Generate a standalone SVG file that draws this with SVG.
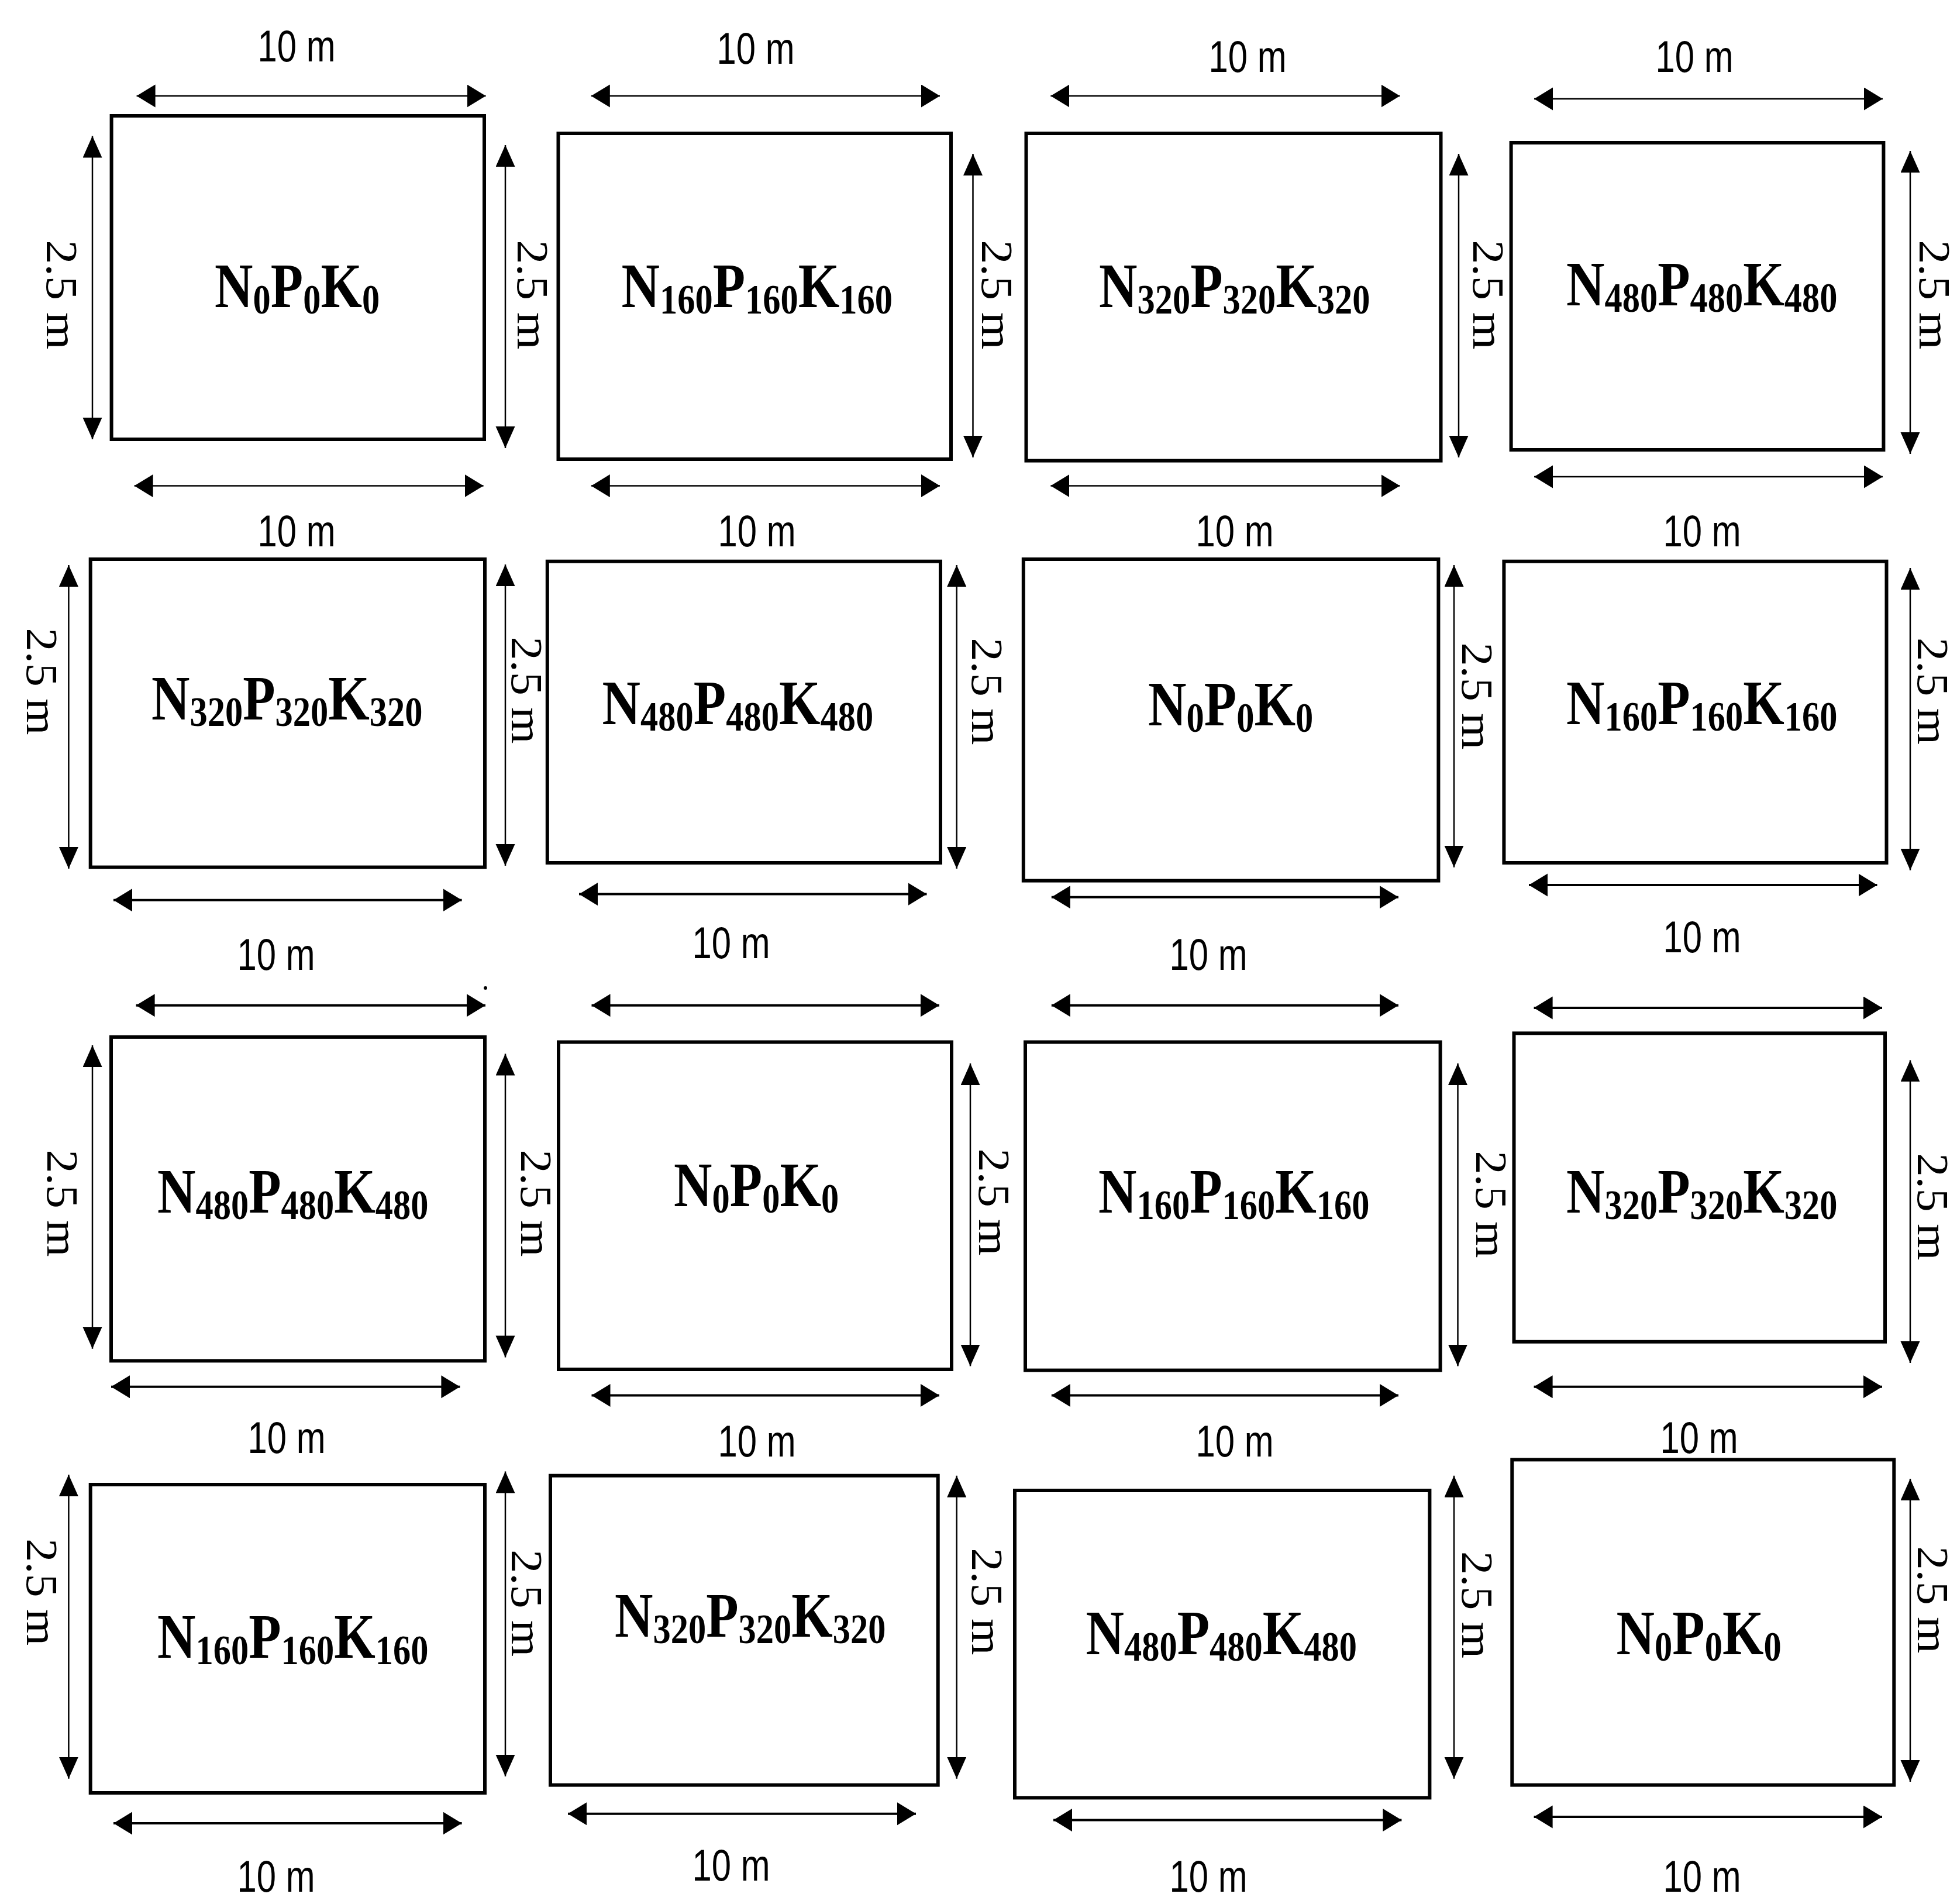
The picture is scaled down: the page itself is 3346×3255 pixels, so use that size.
<svg xmlns="http://www.w3.org/2000/svg" width="3346" height="3255" viewBox="0 0 3346 3255">
<style>
.box{fill:#fff;stroke:#000;stroke-width:6}
.npk{font-family:"Liberation Serif","Times New Roman",serif;font-weight:bold;font-size:108px;fill:#000}
.sub{font-size:72px}
.ar{stroke:#000;fill:none}
.h1{stroke-width:2.5;marker-start:url(#mh);marker-end:url(#mh)}
.h2{stroke-width:4;marker-start:url(#mh);marker-end:url(#mh)}
.v{stroke-width:2.5;marker-start:url(#mv);marker-end:url(#mv)}
.tl{font-family:"Liberation Sans",Arial,sans-serif;font-size:76px;text-anchor:middle;fill:#000}
.vl{font-family:"Liberation Serif","Times New Roman",serif;font-size:77px;text-anchor:middle;fill:#000}
</style>
<defs>
<marker id="mh" markerUnits="userSpaceOnUse" markerWidth="34" markerHeight="40" refX="32" refY="19.5" orient="auto-start-reverse"><path d="M0,0 L32,19.5 L0,39 Z" fill="#000"/></marker>
<marker id="mv" markerUnits="userSpaceOnUse" markerWidth="38" markerHeight="34" refX="37" refY="16.5" orient="auto-start-reverse"><path d="M0,0 L37,16.5 L0,33 Z" fill="#000"/></marker>
</defs>
<rect width="3346" height="3255" fill="#fff"/>

<g id="plots">
<g id="plot-r1c1"><rect class="box" x="190.6" y="198" width="637.4" height="553"/><text class="npk" transform="translate(367,525) scale(0.84,1)">N<tspan class="sub" dy="11">0</tspan><tspan dy="-11">P</tspan><tspan class="sub" dy="11">0</tspan><tspan dy="-11">K</tspan><tspan class="sub" dy="11">0</tspan></text></g>
<g id="plot-r1c2"><rect class="box" x="954.5" y="228" width="671.5" height="557"/><text class="npk" transform="translate(1062.5,525) scale(0.84,1)">N<tspan class="sub" dy="11">160</tspan><tspan dy="-11">P</tspan><tspan class="sub" dy="11">160</tspan><tspan dy="-11">K</tspan><tspan class="sub" dy="11">160</tspan></text></g>
<g id="plot-r1c3"><rect class="box" x="1754.5" y="228" width="709" height="559.6"/><text class="npk" transform="translate(1879,525) scale(0.84,1)">N<tspan class="sub" dy="11">320</tspan><tspan dy="-11">P</tspan><tspan class="sub" dy="11">320</tspan><tspan dy="-11">K</tspan><tspan class="sub" dy="11">320</tspan></text></g>
<g id="plot-r1c4"><rect class="box" x="2583.6" y="244" width="636.8" height="525"/><text class="npk" transform="translate(2678,522) scale(0.84,1)">N<tspan class="sub" dy="11">480</tspan><tspan dy="-11">P</tspan><tspan class="sub" dy="11">480</tspan><tspan dy="-11">K</tspan><tspan class="sub" dy="11">480</tspan></text></g>

<g id="plot-r2c1"><rect class="box" x="154.7" y="956" width="674.3" height="526.6"/><text class="npk" transform="translate(259,1230) scale(0.84,1)">N<tspan class="sub" dy="11">320</tspan><tspan dy="-11">P</tspan><tspan class="sub" dy="11">320</tspan><tspan dy="-11">K</tspan><tspan class="sub" dy="11">320</tspan></text></g>
<g id="plot-r2c2"><rect class="box" x="935.8" y="959.7" width="672.2" height="515.3"/><text class="npk" transform="translate(1029.6,1238) scale(0.84,1)">N<tspan class="sub" dy="11">480</tspan><tspan dy="-11">P</tspan><tspan class="sub" dy="11">480</tspan><tspan dy="-11">K</tspan><tspan class="sub" dy="11">480</tspan></text></g>
<g id="plot-r2c3"><rect class="box" x="1749.8" y="956" width="709.6" height="549.6"/><text class="npk" transform="translate(1963,1240) scale(0.84,1)">N<tspan class="sub" dy="11">0</tspan><tspan dy="-11">P</tspan><tspan class="sub" dy="11">0</tspan><tspan dy="-11">K</tspan><tspan class="sub" dy="11">0</tspan></text></g>
<g id="plot-r2c4"><rect class="box" x="2571.4" y="959.7" width="654.1" height="515.3"/><text class="npk" transform="translate(2678,1238) scale(0.84,1)">N<tspan class="sub" dy="11">160</tspan><tspan dy="-11">P</tspan><tspan class="sub" dy="11">160</tspan><tspan dy="-11">K</tspan><tspan class="sub" dy="11">160</tspan></text></g>

<g id="plot-r3c1"><rect class="box" x="190" y="1772.9" width="639" height="553.5"/><text class="npk" transform="translate(269,2072.6) scale(0.84,1)">N<tspan class="sub" dy="11">480</tspan><tspan dy="-11">P</tspan><tspan class="sub" dy="11">480</tspan><tspan dy="-11">K</tspan><tspan class="sub" dy="11">480</tspan></text></g>
<g id="plot-r3c2"><rect class="box" x="955" y="1781.5" width="672" height="559.5"/><text class="npk" transform="translate(1152,2062) scale(0.84,1)">N<tspan class="sub" dy="11">0</tspan><tspan dy="-11">P</tspan><tspan class="sub" dy="11">0</tspan><tspan dy="-11">K</tspan><tspan class="sub" dy="11">0</tspan></text></g>
<g id="plot-r3c3"><rect class="box" x="1753" y="1781.5" width="709.6" height="561.1"/><text class="npk" transform="translate(1878,2072.6) scale(0.84,1)">N<tspan class="sub" dy="11">160</tspan><tspan dy="-11">P</tspan><tspan class="sub" dy="11">160</tspan><tspan dy="-11">K</tspan><tspan class="sub" dy="11">160</tspan></text></g>
<g id="plot-r3c4"><rect class="box" x="2588.5" y="1766.4" width="634.5" height="527.4"/><text class="npk" transform="translate(2678,2072.6) scale(0.84,1)">N<tspan class="sub" dy="11">320</tspan><tspan dy="-11">P</tspan><tspan class="sub" dy="11">320</tspan><tspan dy="-11">K</tspan><tspan class="sub" dy="11">320</tspan></text></g>

<g id="plot-r4c1"><rect class="box" x="154.7" y="2538" width="674.3" height="527"/><text class="npk" transform="translate(269,2833.5) scale(0.84,1)">N<tspan class="sub" dy="11">160</tspan><tspan dy="-11">P</tspan><tspan class="sub" dy="11">160</tspan><tspan dy="-11">K</tspan><tspan class="sub" dy="11">160</tspan></text></g>
<g id="plot-r4c2"><rect class="box" x="941" y="2522.7" width="662.7" height="528.9"/><text class="npk" transform="translate(1051,2798) scale(0.84,1)">N<tspan class="sub" dy="11">320</tspan><tspan dy="-11">P</tspan><tspan class="sub" dy="11">320</tspan><tspan dy="-11">K</tspan><tspan class="sub" dy="11">320</tspan></text></g>
<g id="plot-r4c3"><rect class="box" x="1735" y="2548" width="709.4" height="525.4"/><text class="npk" transform="translate(1856.5,2828) scale(0.84,1)">N<tspan class="sub" dy="11">480</tspan><tspan dy="-11">P</tspan><tspan class="sub" dy="11">480</tspan><tspan dy="-11">K</tspan><tspan class="sub" dy="11">480</tspan></text></g>
<g id="plot-r4c4"><rect class="box" x="2585.3" y="2495.4" width="653" height="556.2"/><text class="npk" transform="translate(2763.5,2828) scale(0.84,1)">N<tspan class="sub" dy="11">0</tspan><tspan dy="-11">P</tspan><tspan class="sub" dy="11">0</tspan><tspan dy="-11">K</tspan><tspan class="sub" dy="11">0</tspan></text></g>
</g>

<g id="connectors">
<line class="ar h1" x1="233.6" y1="164" x2="830.6" y2="164"/>
<line class="ar h1" x1="1010.8" y1="164" x2="1607" y2="164"/>
<line class="ar h1" x1="1796.4" y1="164" x2="2393.5" y2="164"/>
<line class="ar h1" x1="2623" y1="169" x2="3219" y2="169"/>
<line class="ar h1" x1="229.6" y1="830.6" x2="826.6" y2="830.6"/>
<line class="ar h1" x1="1010.8" y1="830.6" x2="1607" y2="830.6"/>
<line class="ar h1" x1="1796.4" y1="830.6" x2="2393.5" y2="830.6"/>
<line class="ar h1" x1="2623" y1="815" x2="3219" y2="815"/>
<line class="ar v" x1="158" y1="232.5" x2="158" y2="751"/>
<line class="ar v" x1="864" y1="248" x2="864" y2="766"/>
<line class="ar v" x1="1663.5" y1="263" x2="1663.5" y2="782"/>
<line class="ar v" x1="2494" y1="263" x2="2494" y2="782"/>
<line class="ar v" x1="3266" y1="258" x2="3266" y2="776"/>
<line class="ar v" x1="117.4" y1="966" x2="117.4" y2="1485"/>
<line class="ar v" x1="864" y1="965" x2="864" y2="1480"/>
<line class="ar v" x1="1635.7" y1="966" x2="1635.7" y2="1485"/>
<line class="ar v" x1="2486" y1="966" x2="2486" y2="1482.7"/>
<line class="ar v" x1="3266" y1="971" x2="3266" y2="1487.8"/>
<line class="ar h2" x1="194" y1="1538.8" x2="789.6" y2="1538.8"/>
<line class="ar h2" x1="990" y1="1528.6" x2="1584.5" y2="1528.6"/>
<line class="ar h2" x1="1797.8" y1="1533.7" x2="2391" y2="1533.7"/>
<line class="ar h2" x1="2614" y1="1513" x2="3209.5" y2="1513"/>
<line class="ar h2" x1="232.6" y1="1718.7" x2="830" y2="1718.7"/>
<line class="ar h2" x1="1011.5" y1="1718.7" x2="1606" y2="1718.7"/>
<line class="ar h2" x1="1797.8" y1="1718.7" x2="2391" y2="1718.7"/>
<line class="ar h2" x1="2622.6" y1="1723" x2="3218" y2="1723"/>
<circle cx="830" cy="1689" r="3" fill="#000"/>
<line class="ar v" x1="158" y1="1787" x2="158" y2="2305.7"/>
<line class="ar v" x1="864" y1="1801.6" x2="864" y2="2320.4"/>
<line class="ar v" x1="1659" y1="1818" x2="1659" y2="2335.6"/>
<line class="ar v" x1="2492.5" y1="1818" x2="2492.5" y2="2335.6"/>
<line class="ar v" x1="3266" y1="1812.4" x2="3266" y2="2330"/>
<line class="ar h2" x1="190" y1="2370.8" x2="786.4" y2="2370.8"/>
<line class="ar h2" x1="1011.5" y1="2385.4" x2="1606" y2="2385.4"/>
<line class="ar h2" x1="1797.8" y1="2385.4" x2="2391" y2="2385.4"/>
<line class="ar h2" x1="2622.6" y1="2370.8" x2="3218" y2="2370.8"/>
<line class="ar v" x1="117.4" y1="2521" x2="117.4" y2="3040.7"/>
<line class="ar v" x1="864" y1="2515.6" x2="864" y2="3036.8"/>
<line class="ar v" x1="1635.7" y1="2522.7" x2="1635.7" y2="3040.7"/>
<line class="ar v" x1="2486" y1="2522.7" x2="2486" y2="3040.7"/>
<line class="ar v" x1="3266" y1="2528" x2="3266" y2="3046"/>
<line class="ar h2" x1="194" y1="3117" x2="789.6" y2="3117"/>
<line class="ar h2" x1="971" y1="3100.7" x2="1566" y2="3100.7"/>
<line class="ar h2" x1="1801" y1="3111.6" x2="2396.4" y2="3111.6"/>
<line class="ar h2" x1="2622.6" y1="3106" x2="3218" y2="3106"/>
</g>

<g id="dimension-labels">
<text class="tl" x="507" y="105" textLength="133" lengthAdjust="spacingAndGlyphs">10 m</text>
<text class="tl" x="1292" y="109" textLength="133" lengthAdjust="spacingAndGlyphs">10 m</text>
<text class="tl" x="2133" y="123" textLength="133" lengthAdjust="spacingAndGlyphs">10 m</text>
<text class="tl" x="2897" y="123" textLength="133" lengthAdjust="spacingAndGlyphs">10 m</text>
<text class="tl" x="507" y="934" textLength="133" lengthAdjust="spacingAndGlyphs">10 m</text>
<text class="tl" x="1294" y="934" textLength="133" lengthAdjust="spacingAndGlyphs">10 m</text>
<text class="tl" x="2111" y="934" textLength="133" lengthAdjust="spacingAndGlyphs">10 m</text>
<text class="tl" x="2910" y="934" textLength="133" lengthAdjust="spacingAndGlyphs">10 m</text>
<text class="tl" x="472" y="1658" textLength="133" lengthAdjust="spacingAndGlyphs">10 m</text>
<text class="tl" x="1250" y="1638" textLength="133" lengthAdjust="spacingAndGlyphs">10 m</text>
<text class="tl" x="2066" y="1658" textLength="133" lengthAdjust="spacingAndGlyphs">10 m</text>
<text class="tl" x="2910" y="1628" textLength="133" lengthAdjust="spacingAndGlyphs">10 m</text>
<text class="tl" x="490" y="2484" textLength="133" lengthAdjust="spacingAndGlyphs">10 m</text>
<text class="tl" x="1294" y="2490" textLength="133" lengthAdjust="spacingAndGlyphs">10 m</text>
<text class="tl" x="2111" y="2490" textLength="133" lengthAdjust="spacingAndGlyphs">10 m</text>
<text class="tl" x="2905" y="2484" textLength="133" lengthAdjust="spacingAndGlyphs">10 m</text>
<text class="tl" x="472" y="3234" textLength="133" lengthAdjust="spacingAndGlyphs">10 m</text>
<text class="tl" x="1250" y="3215" textLength="133" lengthAdjust="spacingAndGlyphs">10 m</text>
<text class="tl" x="2066" y="3234" textLength="133" lengthAdjust="spacingAndGlyphs">10 m</text>
<text class="tl" x="2910" y="3234" textLength="133" lengthAdjust="spacingAndGlyphs">10 m</text>

<text class="vl" transform="translate(106,504) rotate(90)" dy="0.34em" textLength="187" lengthAdjust="spacingAndGlyphs">2.5 m</text>
<text class="vl" transform="translate(911,504) rotate(90)" dy="0.34em" textLength="187" lengthAdjust="spacingAndGlyphs">2.5 m</text>
<text class="vl" transform="translate(1705,504) rotate(90)" dy="0.34em" textLength="187" lengthAdjust="spacingAndGlyphs">2.5 m</text>
<text class="vl" transform="translate(2545,504) rotate(90)" dy="0.34em" textLength="187" lengthAdjust="spacingAndGlyphs">2.5 m</text>
<text class="vl" transform="translate(3308,504) rotate(90)" dy="0.34em" textLength="187" lengthAdjust="spacingAndGlyphs">2.5 m</text>
<text class="vl" transform="translate(72,1165) rotate(90)" dy="0.34em" textLength="183" lengthAdjust="spacingAndGlyphs">2.5 m</text>
<text class="vl" transform="translate(901.6,1180) rotate(90)" dy="0.34em" textLength="183" lengthAdjust="spacingAndGlyphs">2.5 m</text>
<text class="vl" transform="translate(1688,1182) rotate(90)" dy="0.34em" textLength="183" lengthAdjust="spacingAndGlyphs">2.5 m</text>
<text class="vl" transform="translate(2526.6,1190) rotate(90)" dy="0.34em" textLength="183" lengthAdjust="spacingAndGlyphs">2.5 m</text>
<text class="vl" transform="translate(3305.5,1181.6) rotate(90)" dy="0.34em" textLength="183" lengthAdjust="spacingAndGlyphs">2.5 m</text>
<text class="vl" transform="translate(106.7,2057) rotate(90)" dy="0.34em" textLength="183" lengthAdjust="spacingAndGlyphs">2.5 m</text>
<text class="vl" transform="translate(917.6,2057) rotate(90)" dy="0.34em" textLength="183" lengthAdjust="spacingAndGlyphs">2.5 m</text>
<text class="vl" transform="translate(1700,2055) rotate(90)" dy="0.34em" textLength="183" lengthAdjust="spacingAndGlyphs">2.5 m</text>
<text class="vl" transform="translate(2550.6,2059) rotate(90)" dy="0.34em" textLength="183" lengthAdjust="spacingAndGlyphs">2.5 m</text>
<text class="vl" transform="translate(3305.5,2063) rotate(90)" dy="0.34em" textLength="183" lengthAdjust="spacingAndGlyphs">2.5 m</text>
<text class="vl" transform="translate(72,2721.7) rotate(90)" dy="0.34em" textLength="183" lengthAdjust="spacingAndGlyphs">2.5 m</text>
<text class="vl" transform="translate(901.6,2740.8) rotate(90)" dy="0.34em" textLength="183" lengthAdjust="spacingAndGlyphs">2.5 m</text>
<text class="vl" transform="translate(1688,2738) rotate(90)" dy="0.34em" textLength="183" lengthAdjust="spacingAndGlyphs">2.5 m</text>
<text class="vl" transform="translate(2526.6,2743.5) rotate(90)" dy="0.34em" textLength="183" lengthAdjust="spacingAndGlyphs">2.5 m</text>
<text class="vl" transform="translate(3305.5,2735) rotate(90)" dy="0.34em" textLength="183" lengthAdjust="spacingAndGlyphs">2.5 m</text>
</g>
</svg>
